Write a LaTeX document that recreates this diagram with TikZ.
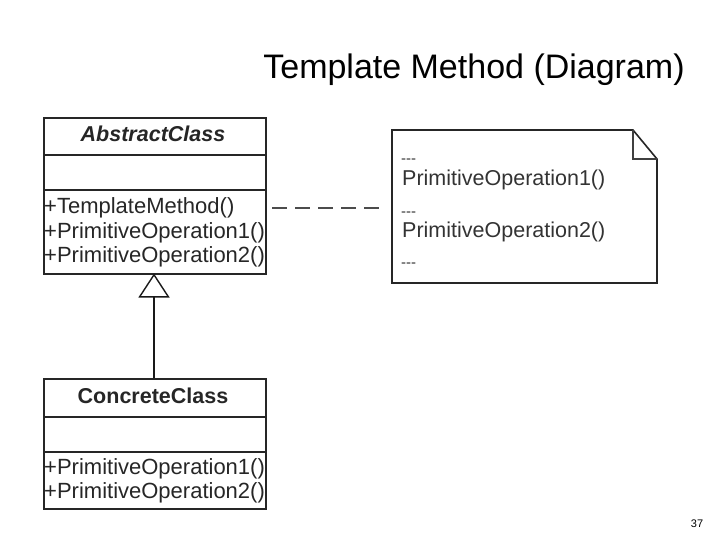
\documentclass[tikz,border=0pt]{standalone}
\usepackage{fontspec}
\setmainfont{Liberation Sans}
\usetikzlibrary{arrows.meta}
\newcommand{\tdash}{{-}{-}{-}}
\begin{document}
\begin{tikzpicture}[x=1pt,y=-1pt,
  box/.style={draw=black!85, line width=1.6pt, inner sep=0pt, anchor=north west},
  sep/.style={draw=black!85, line width=1.6pt},
  mtxt/.style={anchor=base west, inner sep=0pt, text=black!85, font=\fontsize{22}{24}\selectfont},
  ntxt/.style={anchor=base west, inner sep=0pt, text=black!80, font=\fontsize{21.5}{24}\selectfont},
  ctitle/.style={anchor=base, inner sep=0pt, text=black!85, font=\fontsize{21.5}{24}\selectfont\bfseries}]
\useasboundingbox (0,0) rectangle (720,540);
% title
\node[anchor=base, inner sep=0pt, font=\fontsize{34}{38}\selectfont] (title) at (474,79) {Template Method (Diagram)};
% abstract class
\node[box, minimum width=222pt, minimum height=156pt] (abs) at (43,117) {};
\draw[sep] (43,155) -- (265,155);
\draw[sep] (43,190) -- (265,190);
\node[ctitle, font=\fontsize{21.5}{24}\selectfont\bfseries\itshape] (absname) at (153,142) {AbstractClass};
\node[mtxt] (a1) at (44,214) {+TemplateMethod()};
\node[mtxt] (a2) at (44,238) {+PrimitiveOperation1()};
\node[mtxt] (a3) at (44,262) {+PrimitiveOperation2()};
% concrete class
\node[box, minimum width=222pt, minimum height=130pt] (conc) at (43,378) {};
\draw[sep] (43,417) -- (265,417);
\draw[sep] (43,452) -- (265,452);
\node[ctitle] (concname) at (153,403) {ConcreteClass};
\node[mtxt] (c1) at (44,474) {+PrimitiveOperation1()};
\node[mtxt] (c2) at (44,498) {+PrimitiveOperation2()};
% inheritance
\draw[line width=1.4pt, draw=black!90, -{Triangle[open, length=24pt, width=31pt, line width=1.4pt]}] (conc.north -| 154,0) -- (154,273.5) coordinate (apex);
% note
\node[inner sep=0pt, minimum width=265pt, minimum height=153pt, anchor=north west] (note) at (392,130) {};
\draw[draw=black!85, line width=1.6pt, line join=miter] (392,130) -- (633,130) -- (657,159) -- (657,283) -- (392,283) -- cycle;
\draw[draw=black!75, line width=1.2pt] (633,130) -- (633,159) -- (657,159);
\node[ntxt, font=\fontsize{15}{16}\selectfont] (n0) at (401,164) {\tdash};
\node[ntxt] (n1) at (402,186) {PrimitiveOperation1()};
\node[ntxt, font=\fontsize{15}{16}\selectfont] (n2) at (401,216) {\tdash};
\node[ntxt] (n3) at (402,237) {PrimitiveOperation2()};
\node[ntxt, font=\fontsize{15}{16}\selectfont] (n4) at (401,267) {\tdash};
% dashed connector
\coordinate (d1) at (272,208);
\coordinate (d2) at (385,208);
\draw[draw=black!70, line width=1.4pt, dash pattern=on 15pt off 8pt] (d1) -- (d2);
% page number
\node[anchor=base, inner sep=0pt, font=\fontsize{11}{13}\selectfont] (pg) at (697,527) {37};
\end{tikzpicture}
\end{document}
